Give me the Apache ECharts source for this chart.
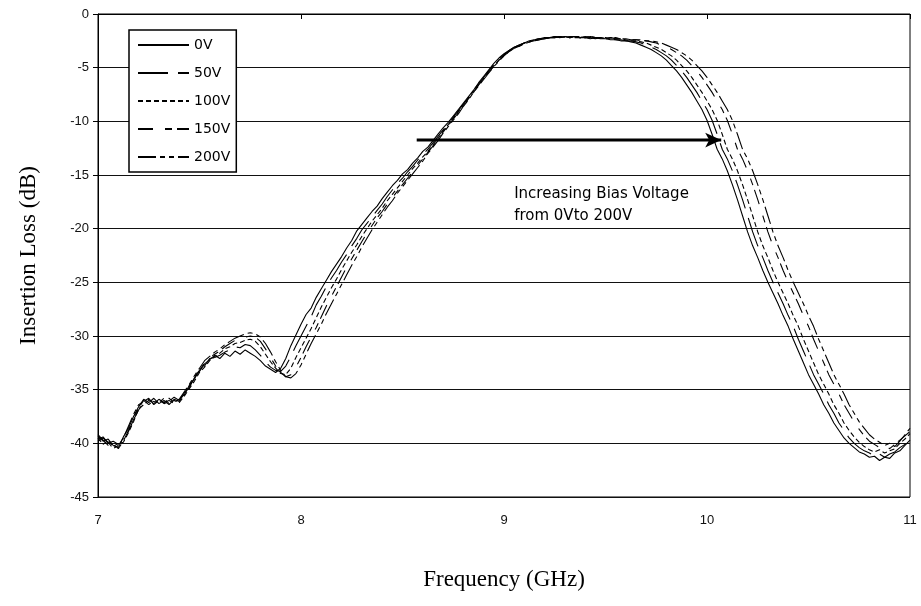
<!DOCTYPE html>
<html>
<head>
<meta charset="utf-8">
<script src="https://cdn.jsdelivr.net/npm/echarts@6/dist/echarts.min.js"></script>
<style>html,body{margin:0;padding:0;background:#fff}#c{width:921px;height:606px}</style>
</head>
<body>
<div id="c"></div>
<script>
// Frequency grid (GHz)
var freq = [
7,7.025,7.05,7.075,7.1,7.125,7.15,7.175,7.2,7.225,
7.25,7.275,7.3,7.325,7.35,7.375,7.4,7.425,7.45,7.475,
7.5,7.525,7.55,7.575,7.6,7.625,7.65,7.675,7.7,7.725,
7.75,7.775,7.8,7.825,7.85,7.875,7.9,7.925,7.95,7.975,
8,8.025,8.05,8.075,8.1,8.125,8.15,8.175,8.2,8.225,
8.25,8.275,8.3,8.325,8.35,8.375,8.4,8.425,8.45,8.475,
8.5,8.525,8.55,8.575,8.6,8.625,8.65,8.675,8.7,8.725,
8.75,8.775,8.8,8.825,8.85,8.875,8.9,8.925,8.95,8.975,
9,9.025,9.05,9.075,9.1,9.125,9.15,9.175,9.2,9.225,
9.25,9.275,9.3,9.325,9.35,9.375,9.4,9.425,9.45,9.475,
9.5,9.525,9.55,9.575,9.6,9.625,9.65,9.675,9.7,9.725,
9.75,9.775,9.8,9.825,9.85,9.875,9.9,9.925,9.95,9.975,
10,10.025,10.05,10.075,10.1,10.125,10.15,10.175,10.2,10.225,
10.25,10.275,10.3,10.325,10.35,10.375,10.4,10.425,10.45,10.475,
10.5,10.525,10.55,10.575,10.6,10.625,10.65,10.675,10.7,10.725,
10.75,10.775,10.8,10.825,10.85,10.875,10.9,10.925,10.95,10.975,
11];

// Insertion loss (dB) per bias voltage
var loss0V = [
-39.3,-39.8,-39.6,-40.2,-40.4,-39.4,-38.6,-37.5,-36.6,-35.9,
-36.2,-35.8,-36.3,-36.0,-36.4,-35.9,-36.1,-35.3,-34.8,-33.9,
-33.3,-32.6,-32.2,-31.8,-32.1,-31.6,-31.9,-31.4,-31.7,-31.3,
-31.6,-31.9,-32.3,-32.8,-33.1,-33.4,-33.0,-32.1,-30.9,-29.9,
-28.9,-28.0,-27.4,-26.4,-25.6,-24.8,-24.0,-23.3,-22.6,-21.8,
-21.1,-20.2,-19.6,-19.0,-18.4,-17.9,-17.2,-16.6,-16.0,-15.5,
-14.9,-14.5,-13.9,-13.4,-12.8,-12.4,-11.8,-11.2,-10.6,-10.1,
-9.5,-8.9,-8.3,-7.7,-7.1,-6.4,-5.8,-5.2,-4.6,-4.1,
-3.7,-3.4,-3.1,-2.9,-2.7,-2.5,-2.4,-2.3,-2.2,-2.2,
-2.1,-2.2,-2.1,-2.2,-2.1,-2.2,-2.2,-2.3,-2.2,-2.3,
-2.3,-2.4,-2.4,-2.5,-2.5,-2.6,-2.7,-2.9,-3.1,-3.3,
-3.6,-3.9,-4.3,-4.8,-5.3,-5.9,-6.6,-7.3,-8.1,-8.9,
-9.9,-11.2,-12.6,-13.5,-14.6,-15.9,-17.3,-18.8,-20.3,-21.6,
-22.7,-23.9,-25.0,-26.0,-27.0,-28.1,-29.1,-30.3,-31.4,-32.5,
-33.6,-34.5,-35.4,-36.4,-37.2,-38.1,-38.8,-39.5,-40.0,-40.4,
-40.8,-41.0,-41.3,-41.2,-41.6,-41.3,-41.4,-40.9,-40.7,-40.2,
-39.7];

var loss50V = [
-39.6,-39.4,-40.0,-39.8,-40.1,-39.7,-38.9,-37.8,-36.9,-36.2,
-35.9,-36.3,-35.9,-36.2,-36.0,-36.3,-35.8,-35.5,-34.6,-34.0,
-33.1,-32.8,-32.1,-32.0,-31.8,-31.5,-31.3,-31.0,-31.1,-30.8,
-30.9,-31.3,-31.8,-32.4,-32.9,-33.2,-33.3,-32.8,-31.9,-30.9,
-30.0,-29.1,-28.2,-27.1,-26.3,-25.4,-24.6,-23.9,-23.1,-22.4,
-21.6,-20.9,-20.1,-19.5,-18.9,-18.3,-17.7,-17.0,-16.4,-15.8,
-15.3,-14.7,-14.2,-13.6,-13.1,-12.6,-12.0,-11.4,-10.8,-10.2,
-9.6,-9.0,-8.4,-7.8,-7.1,-6.5,-5.9,-5.3,-4.7,-4.2,
-3.8,-3.4,-3.1,-2.9,-2.7,-2.5,-2.4,-2.3,-2.3,-2.2,
-2.2,-2.1,-2.2,-2.1,-2.2,-2.2,-2.1,-2.2,-2.3,-2.2,
-2.3,-2.3,-2.4,-2.4,-2.5,-2.5,-2.6,-2.7,-2.9,-3.1,
-3.3,-3.6,-3.9,-4.3,-4.8,-5.3,-5.9,-6.6,-7.3,-8.1,
-8.9,-9.9,-11.2,-12.6,-13.5,-14.6,-15.9,-17.3,-18.8,-20.3,
-21.6,-22.7,-23.9,-25.0,-26.0,-27.0,-28.1,-29.1,-30.3,-31.4,
-32.5,-33.6,-34.5,-35.4,-36.4,-37.2,-38.1,-38.8,-39.5,-40.0,
-40.4,-40.7,-40.9,-41.2,-41.0,-41.3,-41.0,-40.8,-40.4,-40.1,
-39.4];

var loss100V = [
-39.5,-40.1,-39.7,-40.3,-40.0,-39.9,-39.0,-38.0,-36.8,-36.4,
-36.0,-36.1,-36.2,-35.8,-36.3,-36.0,-36.2,-35.6,-34.9,-34.2,
-33.4,-32.9,-32.3,-31.9,-31.6,-31.2,-31.0,-30.7,-30.6,-30.4,
-30.3,-30.5,-31.0,-31.7,-32.4,-33.0,-33.5,-33.6,-33.0,-32.0,
-31.1,-30.2,-29.3,-28.3,-27.3,-26.4,-25.5,-24.7,-23.8,-23.0,
-22.2,-21.5,-20.7,-20.0,-19.3,-18.7,-18.1,-17.4,-16.8,-16.2,
-15.6,-15.0,-14.4,-13.9,-13.3,-12.8,-12.2,-11.6,-10.9,-10.3,
-9.7,-9.1,-8.5,-7.8,-7.2,-6.6,-6.0,-5.4,-4.8,-4.3,
-3.8,-3.5,-3.2,-2.9,-2.7,-2.6,-2.4,-2.3,-2.3,-2.2,
-2.1,-2.2,-2.1,-2.2,-2.1,-2.2,-2.2,-2.1,-2.2,-2.2,
-2.3,-2.2,-2.3,-2.3,-2.4,-2.5,-2.5,-2.6,-2.7,-2.9,
-3.1,-3.3,-3.6,-3.9,-4.3,-4.8,-5.3,-5.9,-6.6,-7.3,
-8.1,-8.9,-9.9,-11.2,-12.6,-13.5,-14.6,-15.9,-17.3,-18.8,
-20.3,-21.6,-22.7,-23.9,-25.0,-26.0,-27.0,-28.1,-29.1,-30.3,
-31.4,-32.5,-33.6,-34.5,-35.4,-36.4,-37.2,-38.1,-38.8,-39.4,
-39.9,-40.3,-40.6,-40.8,-40.6,-40.9,-40.7,-40.5,-40.0,-39.6,
-39.1];

var loss150V = [
-39.2,-39.7,-40.2,-39.9,-40.5,-39.8,-38.8,-37.6,-36.7,-36.0,
-36.4,-36.0,-35.9,-36.3,-36.1,-35.7,-36.0,-35.4,-34.7,-33.8,
-33.2,-32.5,-32.0,-31.7,-31.4,-31.0,-30.7,-30.4,-30.2,-30.1,
-30.0,-30.1,-30.5,-31.2,-32.0,-32.8,-33.4,-33.8,-33.6,-32.9,
-32.0,-31.0,-30.1,-29.2,-28.2,-27.2,-26.3,-25.4,-24.5,-23.6,
-22.8,-22.0,-21.2,-20.4,-19.7,-19.0,-18.4,-17.7,-17.1,-16.5,
-15.9,-15.3,-14.7,-14.1,-13.5,-12.9,-12.3,-11.7,-11.0,-10.4,
-9.8,-9.2,-8.6,-7.9,-7.3,-6.6,-6.0,-5.4,-4.9,-4.3,
-3.9,-3.5,-3.2,-3.0,-2.7,-2.6,-2.5,-2.4,-2.3,-2.2,
-2.2,-2.1,-2.2,-2.1,-2.1,-2.2,-2.1,-2.2,-2.2,-2.2,
-2.3,-2.2,-2.3,-2.3,-2.4,-2.4,-2.4,-2.5,-2.5,-2.6,
-2.7,-2.9,-3.1,-3.3,-3.6,-3.9,-4.3,-4.8,-5.3,-5.9,
-6.6,-7.3,-8.1,-8.9,-9.9,-11.2,-12.6,-13.5,-14.6,-15.9,
-17.3,-18.8,-20.3,-21.6,-22.7,-23.9,-25.0,-26.0,-27.0,-28.1,
-29.1,-30.3,-31.4,-32.5,-33.6,-34.5,-35.4,-36.4,-37.2,-38.0,
-38.7,-39.3,-39.8,-40.1,-40.4,-40.2,-40.5,-40.1,-39.7,-39.3,
-38.9];

var loss200V = [
-39.8,-39.5,-39.9,-40.5,-40.2,-39.5,-38.4,-37.3,-36.4,-36.1,
-35.8,-36.4,-36.0,-36.2,-35.8,-36.2,-35.9,-35.2,-34.5,-33.7,
-33.0,-32.3,-31.9,-31.5,-31.2,-30.8,-30.5,-30.2,-30.0,-29.8,
-29.7,-29.8,-30.1,-30.7,-31.5,-32.4,-33.2,-33.8,-33.9,-33.5,
-32.7,-31.7,-30.7,-29.8,-28.9,-27.9,-27.0,-26.1,-25.2,-24.3,
-23.4,-22.6,-21.7,-20.9,-20.1,-19.4,-18.7,-18.0,-17.4,-16.7,
-16.1,-15.5,-14.9,-14.3,-13.7,-13.0,-12.4,-11.8,-11.1,-10.5,
-9.9,-9.3,-8.6,-8.0,-7.3,-6.7,-6.1,-5.5,-4.9,-4.4,
-3.9,-3.5,-3.2,-3.0,-2.8,-2.6,-2.5,-2.4,-2.3,-2.2,
-2.2,-2.1,-2.1,-2.2,-2.1,-2.1,-2.2,-2.1,-2.2,-2.2,
-2.2,-2.3,-2.2,-2.3,-2.3,-2.4,-2.4,-2.4,-2.5,-2.5,
-2.6,-2.7,-2.9,-3.1,-3.3,-3.6,-3.9,-4.3,-4.8,-5.3,
-5.9,-6.6,-7.3,-8.1,-8.9,-9.9,-11.2,-12.6,-13.5,-14.6,
-15.9,-17.3,-18.8,-20.3,-21.6,-22.7,-23.9,-25.0,-26.0,-27.0,
-28.1,-29.1,-30.3,-31.4,-32.5,-33.6,-34.5,-35.4,-36.4,-37.2,
-38.0,-38.6,-39.2,-39.6,-39.9,-40.2,-40.0,-40.3,-39.8,-39.2,
-38.6];

var seriesNames = ['0V', '50V', '100V', '150V', '200V'];
var seriesValues = [loss0V, loss50V, loss100V, loss150V, loss200V];
var dashTypes = ['solid', [30, 10], [5, 3], [15, 12, 7, 5], [18, 4, 5, 4, 5, 4]];

// Annotation arrow (GHz, dB) and text
var arrowStart = [8.57, -11.75];
var arrowEnd = [10.07, -11.75];
var noteAnchor = [9.05, -15.8];
var noteText = 'Increasing Bias Voltage\nfrom 0Vto 200V';

var chart = echarts.init(document.getElementById('c'), null, {renderer: 'canvas'});

function pairs(vals) {
  var out = [];
  for (var i = 0; i < freq.length; i++) out.push([freq[i], vals[i]]);
  return out;
}

var series = seriesNames.map(function (n, k) {
  return {
    name: n, type: 'line', data: pairs(seriesValues[k]),
    symbol: 'none', showSymbol: false, smooth: false,
    lineStyle: {color: '#000', width: 1.1, type: dashTypes[k]},
    itemStyle: {color: '#000'},
    emphasis: {disabled: true}, silent: true, z: 2 + k
  };
});

series.push({
  name: 'arrow', type: 'line',
  data: [
    {value: arrowStart, symbol: 'none'},
    {value: arrowEnd, symbol: 'arrow', symbolSize: [11, 16], symbolRotate: -90}
  ],
  showSymbol: true,
  lineStyle: {color: '#000', width: 3},
  itemStyle: {color: '#000'},
  emphasis: {disabled: true}, silent: true, z: 10
});

var option = {
  animation: false,
  backgroundColor: '#fff',
  grid: {left: 98, right: 11, top: 14, bottom: 109, show: true, borderColor: '#000', borderWidth: 1, backgroundColor: 'transparent'},
  legend: {
    data: seriesNames, orient: 'vertical', left: 129, top: 30,
    itemWidth: 51, itemHeight: 14, itemGap: 14,
    padding: [8, 6, 8, 8],
    borderColor: '#000', borderWidth: 1.5, backgroundColor: '#fff',
    itemStyle: {opacity: 0},
    textStyle: {fontFamily: 'DejaVu Sans', fontSize: 14, color: '#000'},
    selectedMode: false, z: 20
  },
  xAxis: {
    type: 'value', min: 7, max: 11, interval: 1,
    name: 'Frequency (GHz)', nameLocation: 'middle', nameGap: 71,
    nameTextStyle: {fontFamily: 'Liberation Serif', fontSize: 23, color: '#000'},
    axisLine: {show: true, lineStyle: {color: '#000', width: 1}},
    axisTick: {show: true, length: 5, lineStyle: {color: '#000'}},
    axisLabel: {fontFamily: 'Liberation Sans', fontSize: 13, color: '#111', margin: 17},
    splitLine: {show: false}
  },
  yAxis: {
    type: 'value', min: -45, max: 0, interval: 5,
    name: 'Insertion Loss (dB)', nameLocation: 'middle', nameGap: 58,
    nameTextStyle: {fontFamily: 'Liberation Serif', fontSize: 23, color: '#000'},
    axisLine: {show: true, lineStyle: {color: '#000', width: 1}},
    axisTick: {show: true, length: 5, lineStyle: {color: '#000'}},
    axisLabel: {fontFamily: 'Liberation Sans', fontSize: 13, color: '#111', margin: 9},
    splitLine: {show: true, lineStyle: {color: '#111', width: 1.2}}
  },
  series: series
};
chart.setOption(option);

var p = chart.convertToPixel({gridIndex: 0}, noteAnchor);
chart.setOption({
  graphic: [{
    type: 'text', x: p[0], y: p[1], z: 30,
    style: {text: noteText, fontFamily: 'DejaVu Sans', fontSize: 15, fill: '#000', lineHeight: 22, textVerticalAlign: 'top', verticalAlign: 'top'}
  }]
});
</script>
</body>
</html>
